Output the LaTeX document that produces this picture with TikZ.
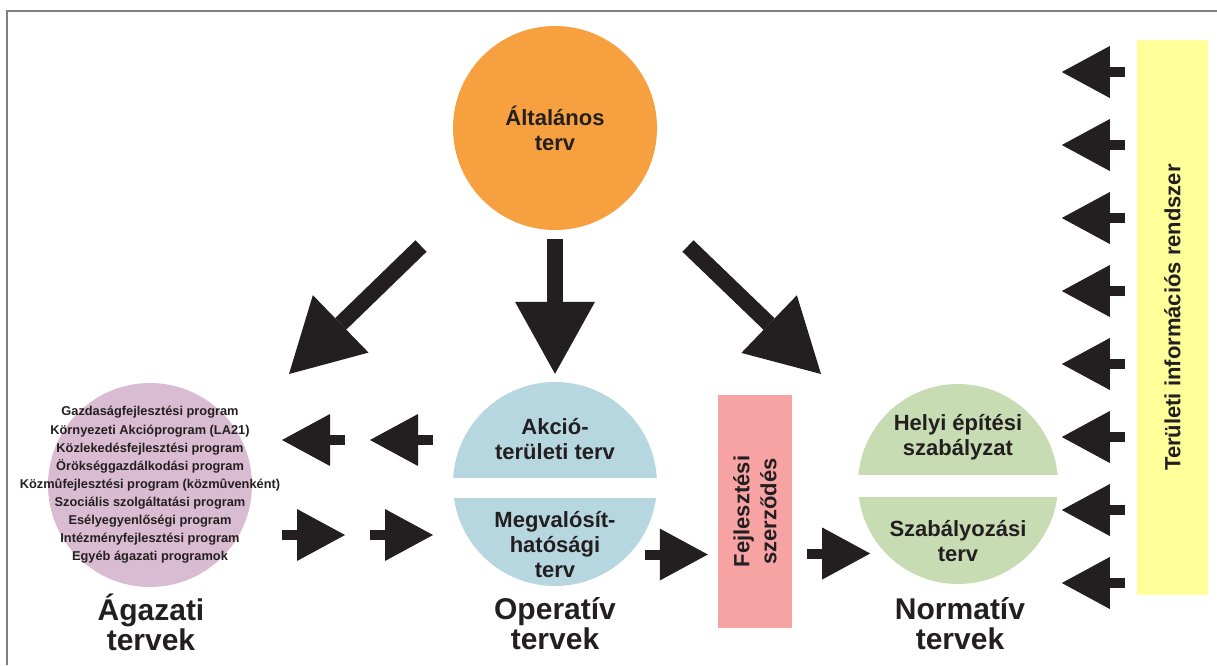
\documentclass[tikz,border=0pt]{standalone}
\usepackage{fontspec}
\setmainfont{Liberation Sans}
\usetikzlibrary{arrows.meta, calc}
\definecolor{xorange}{HTML}{F7A040}
\definecolor{xpink}{HTML}{DABCD2}
\definecolor{xblue}{HTML}{B6D7E0}
\definecolor{xgreen}{HTML}{C8DCB3}
\definecolor{xsalmon}{HTML}{F7A3A3}
\definecolor{xyellow}{HTML}{FFFF99}
\definecolor{xdark}{HTML}{231F20}
\definecolor{xframe}{HTML}{808080}
\tikzset{
	disc/.style = {circle, fill=#1, minimum size=204pt, inner sep=0pt},
	panel/.style = {fill=#1, inner sep=0pt},
	bigarrow/.style = {xdark, line width=16pt, -{Triangle[length=72pt, width=80pt, line width=0pt]}},
	smallarrow/.style = {xdark, line width=10pt, -{Triangle[length=48pt, width=52pt, line width=0pt]}},
	midtext/.style = {text=xdark, font=\bfseries\fontsize{22}{25}\selectfont, align=center},
	smalltext/.style = {text=xdark, font=\bfseries\fontsize{12.8}{18.1}\selectfont, align=center},
	bigtext/.style = {text=xdark, font=\bfseries\fontsize{30}{30}\selectfont, align=center},
}

\begin{document}
\begin{tikzpicture}[x=1pt, y=-1pt]
	\useasboundingbox (0,0) rectangle (1217,665);
	\draw[xframe, line width=2pt] (7,665) -- (7,11) -- (1217,11);
	% circles and bars
	\node[disc=xorange] (alt) at (555,128) {};
	\node[disc=xpink] (ag) at (150,485) {};
	\node[disc=xblue] (op) at (555,484) {};
	\node[disc=xgreen, minimum size=200pt] (norm) at (958,484) {};
	\fill[white] ($(op.west)+(-2,-6)$) rectangle ($(op.east)+(2,14)$);
	\fill[white] ($(norm.west)+(-2,-9)$) rectangle ($(norm.east)+(2,13)$);
	\node[panel=xsalmon, minimum width=74pt, minimum height=233pt] (fej) at (755,511.5) {};
	\node[panel=xyellow, minimum width=71pt, minimum height=555pt] (yel) at (1172.5,317.5) {};
	% texts
	\node[midtext] (alttext) at (alt) {Általános\\terv};
	\node[smalltext] (agtext) at (ag) {Gazdaságfejlesztési program\\Környezeti Akcióprogram (LA21)\\Közlekedésfejlesztési program\\Örökséggazdálkodási program\\Közmûfejlesztési program (közmûvenként)\\Szociális szolgáltatási program\\Esélyegyenlőségi program\\Intézményfejlesztési program\\Egyéb ágazati programok};
	\node[midtext] (optop) at (555,439) {Akció-\\területi terv};
	\node[midtext] (opbot) at (555,545) {Megvalósít-\\hatósági\\terv};
	\node[midtext] (normtop) at (958,437) {Helyi építési\\szabályzat};
	\node[midtext] (normbot) at (958,541) {Szabályozási\\terv};
	\node[midtext, rotate=90, font=\bfseries\fontsize{22}{27}\selectfont] (fejtext) at (fej) {Fejlesztési\\szerződés};
	\node[midtext, rotate=90] (yeltext) at (yel) {Területi információs rendszer};
	\node[bigtext] (aglabel) at (151,622) {Ágazati\\tervek};
	\node[bigtext] (oplabel) at (555,624) {Operatív\\tervek};
	\node[bigtext] (normlabel) at (960,624) {Normatív\\tervek};
	% arrows
	\coordinate (ltop) at (421,246);
	\coordinate (ltip) at (289,374);
	\coordinate (rtop) at (688,246);
	\coordinate (rtip) at (821,374);
	\draw[bigarrow] (ltop) -- (ltip);
	\draw[bigarrow, shorten <=9pt, shorten >=8pt] (alt) -- (op);
	\draw[bigarrow] (rtop) -- (rtip);
	\foreach \x in {282,370} {
		\draw[smallarrow] (\x+63,440) -- (\x,440);
		\draw[smallarrow] (\x,535) -- (\x+63,535);
	}
	\draw[smallarrow] ($(fej.west)+(-73,43)$) -- ++(63,0);
	\draw[smallarrow] ($(fej.east)+(15,42)$) -- ++(63,0);
	\foreach \y in {72,145,...,583}
		\draw[smallarrow] ($(yel.west |- 0,\y)+(-12,0)$) -- ++(-63,0);
\end{tikzpicture}
\end{document}
